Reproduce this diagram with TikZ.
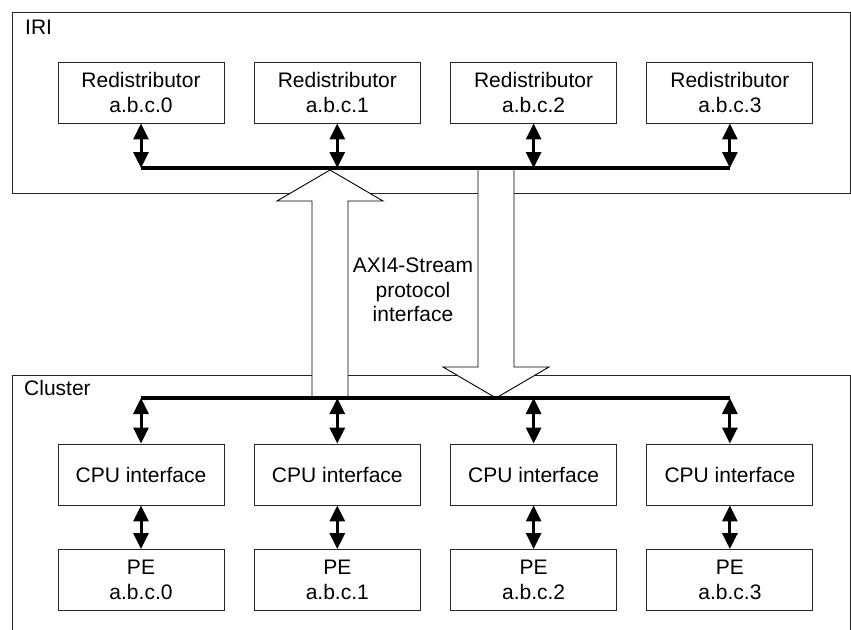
\documentclass[tikz,border=0pt]{standalone}
\usepackage{fontspec}
\setmainfont{Liberation Sans}
\usetikzlibrary{arrows.meta,calc}
\begin{document}
\begin{tikzpicture}[x=1pt,y=-1pt,
  frame/.style={draw=black!85, line width=0.9pt},
  unit/.style={draw=black!85, line width=0.9pt, minimum width=166pt, minimum height=61pt,
    inner sep=0pt, align=center, font=\fontsize{21}{24.5}\selectfont},
  bus/.style={line width=4pt, line cap=butt},
  link/.style={line width=3pt, {Triangle[width=15pt,length=16pt]}-{Triangle[width=15pt,length=16pt]}},
  bigarrow/.style={draw=black, fill=white, line width=0.9pt, line join=miter},
  lbl/.style={font=\fontsize{21}{24.5}\selectfont, anchor=base west, inner sep=0pt}
]
\useasboundingbox (0,0) rectangle (851,629);
\begin{scope}
  \clip (0,0) rectangle (851,629);
  \draw[frame] (12,12) rectangle (850,193);
  \draw[frame] (12,375) rectangle (850,660);
\end{scope}
\node[lbl] (iri) at (25,34) {IRI};
\node[lbl] (cluster) at (24,395) {Cluster};

% Redistributors
\node[unit] (r0) at (141,92.5) {Redistributor\\a.b.c.0};
\node[unit] (r1) at (337.3,92.5) {Redistributor\\a.b.c.1};
\node[unit] (r2) at (533.6,92.5) {Redistributor\\a.b.c.2};
\node[unit] (r3) at (729.9,92.5) {Redistributor\\a.b.c.3};

% CPU interfaces
\node[unit] (c0) at (141,474.5) {CPU interface};
\node[unit] (c1) at (337.3,474.5) {CPU interface};
\node[unit] (c2) at (533.6,474.5) {CPU interface};
\node[unit] (c3) at (729.9,474.5) {CPU interface};

% PEs
\node[unit] (p0) at (141,580) {PE\\a.b.c.0};
\node[unit] (p1) at (337.3,580) {PE\\a.b.c.1};
\node[unit] (p2) at (533.6,580) {PE\\a.b.c.2};
\node[unit] (p3) at (729.9,580) {PE\\a.b.c.3};

\coordinate (ibus) at (0,168);
\coordinate (cbus) at (0,398);

% Big hollow arrows
\coordinate (upbase) at (330,398);
\coordinate (uptip) at (330,170);
\coordinate (dntop) at (496,170);
\coordinate (dntip) at (496,398);
\draw[bigarrow] ($(upbase)+(-18,0)$) -- ($(uptip)+(-18,31)$) -- ($(uptip)+(-53,31)$) -- (uptip)
  -- ($(uptip)+(53,31)$) -- ($(uptip)+(18,31)$) -- ($(upbase)+(18,0)$);
\draw[bigarrow] ($(dntop)+(-18,0)$) -- ($(dntip)+(-18,-31)$) -- ($(dntip)+(-53,-31)$) -- (dntip)
  -- ($(dntip)+(53,-31)$) -- ($(dntip)+(18,-31)$) -- ($(dntop)+(18,0)$);

\node[align=center, font=\fontsize{21}{24.5}\selectfont, inner sep=0pt] (axi) at (413,290)
  {AXI4-Stream\\protocol\\interface};

% Buses
\draw[bus] (r0.south |- ibus) -- (r3.south |- ibus);
\draw[bus] (c0.north |- cbus) -- (c3.north |- cbus);

% Links
\foreach \i in {0,1,2,3} {
  \draw[link] (r\i.south) -- (r\i.south |- ibus);
  \draw[link] (c\i.north |- cbus) -- (c\i.north);
  \draw[link] (c\i.south) -- (p\i.north);
}
\end{tikzpicture}
\end{document}
